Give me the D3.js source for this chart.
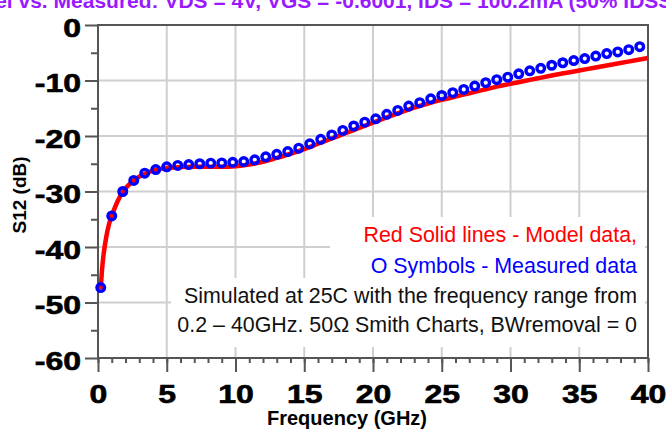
<!DOCTYPE html>
<html>
<head>
<meta charset="utf-8">
<script src="https://cdn.jsdelivr.net/npm/d3@7"></script>
<style>
  html, body { margin: 0; padding: 0; background: #fff; overflow: hidden; }
  svg { display: block; }
</style>
</head>
<body>
<div id="chart"></div>
<script>
// Datos medidos (simbolos O)
const measFreq = [0.2, 1.0, 1.8, 2.6, 3.4, 4.2, 5.0, 5.8, 6.6, 7.4, 8.2, 9.0, 9.8, 10.6, 11.4, 12.2, 13.0, 13.8, 14.6, 15.4,
  16.2, 17.0, 17.8, 18.6, 19.4, 20.2, 21.0, 21.8, 22.6, 23.4, 24.2, 25.0, 25.8, 26.6, 27.4, 28.2, 29.0, 29.8, 30.6, 31.4,
  32.2, 33.0, 33.8, 34.6, 35.4, 36.2, 37.0, 37.8, 38.6, 39.4];
const measS12 = [-47.3, -34.4, -30.0, -28.0, -26.7, -26.05, -25.55, -25.3, -25.15, -25.0, -24.9, -24.85, -24.75, -24.6, -24.3, -23.75, -23.3, -22.8, -22.2, -21.4,
  -20.6, -19.8, -19.0, -18.2, -17.5, -16.9, -16.1, -15.4, -14.6, -14.0, -13.3, -12.7, -12.2, -11.6, -11.0, -10.4, -9.85, -9.4, -8.8, -8.25,
  -7.8, -7.25, -6.8, -6.4, -6.05, -5.6, -5.15, -4.85, -4.45, -3.9];

// Datos del modelo (linea roja)
const modelFreq = [0.2, 0.3, 0.4, 0.6, 0.8, 1.0, 1.4, 1.8, 2.2, 2.6, 3.4, 4.2, 5, 6, 7, 8, 9, 10, 11, 12, 13, 14, 15, 16, 17,
  18, 19, 20, 21, 22, 23, 24, 25, 26, 27, 28, 29, 30, 31, 32, 33, 34, 35, 36, 37, 38, 39, 40];
const modelS12 = [-47.6, -43.9, -41.5, -38.2, -35.9, -34.4, -31.9, -30.1, -28.9, -28.0, -26.8, -26.1, -25.75, -25.6, -25.55, -25.55, -25.55, -25.45, -25.15, -24.65, -23.95, -23.2, -22.35, -21.4, -20.45,
  -19.5, -18.55, -17.6, -16.65, -15.75, -14.9, -14.15, -13.5, -12.9, -12.3, -11.7, -11.1, -10.6, -10.1, -9.6, -9.1, -8.65, -8.2, -7.75, -7.3, -6.85, -6.4, -5.95];

const xTicks = [0, 5, 10, 15, 20, 25, 30, 35, 40];
const yTicks = [0, -10, -20, -30, -40, -50, -60];

const titleText = "Model vs. Measured: VDS = 4V, VGS = -0.6001, IDS = 100.2mA (50% IDSS), 25C";
const notes = [
  { text: "Red Solid lines - Model data,", color: "#ff0000" },
  { text: "O Symbols - Measured data", color: "#0000ff" },
  { text: "Simulated at 25C with the frequency range from", color: "#111" },
  { text: "0.2 \u2013 40GHz. 50\u03A9 Smith Charts, BWremoval = 0", color: "#111" }
];

const width = 666, height = 431;
const plotLeft = 98, plotRight = 648, plotTop = 25, plotBottom = 358;

const svg = d3.select("#chart").append("svg")
  .attr("width", width)
  .attr("height", height);

const x = d3.scaleLinear().domain([0, 40]).range([plotLeft, plotRight]);
const y = d3.scaleLinear().domain([-60, 0]).range([plotBottom, plotTop]);

// titulo (cortado arriba)
svg.append("text")
  .attr("x", -48)
  .attr("y", 8)
  .attr("font-family", "Liberation Sans, Arial, sans-serif")
  .attr("font-weight", "bold")
  .attr("font-size", 21)
  .attr("fill", "#9a1aff")
  .text(titleText);

// rejilla
const grid = svg.append("g").attr("stroke", "#cfcfcf").attr("stroke-width", 2);
xTicks.slice(1, -1).forEach(t => {
  grid.append("line").attr("x1", x(t)).attr("x2", x(t)).attr("y1", plotTop).attr("y2", plotBottom);
});
yTicks.slice(1, -1).forEach(t => {
  grid.append("line").attr("x1", plotLeft).attr("x2", plotRight).attr("y1", y(t)).attr("y2", y(t));
});

// cajas blancas detras de las notas
svg.append("rect").attr("x", 330).attr("y", 217).attr("width", 315).attr("height", 62).attr("fill", "#fff");
svg.append("rect").attr("x", 171).attr("y", 278).attr("width", 474).attr("height", 69).attr("fill", "#fff");

// ejes
const axisColor = "#555";
const xAxis = d3.axisBottom(x).tickValues(xTicks).tickSize(14).tickFormat(d => String(d));
const xMinor = d3.axisBottom(x).tickValues(d3.range(0, 41, 1)).tickSize(5).tickFormat("");
const yAxis = d3.axisLeft(y).tickValues(yTicks).tickSize(13).tickFormat(d => String(d));
const yMinor = d3.axisLeft(y).tickValues(d3.range(-55, 0, 10)).tickSize(7).tickFormat("");

function styleAxis(g) {
  g.select(".domain").remove();
  g.selectAll("line").attr("stroke", axisColor).attr("stroke-width", 2);
  g.selectAll("text")
    .attr("fill", "#000")
    .attr("stroke", "#000")
    .attr("stroke-width", 0.6)
    .attr("font-family", "Liberation Sans, Arial, sans-serif")
    .attr("font-weight", "bold")
    .attr("font-size", 25);
}

// las etiquetas del original salen estiradas a lo ancho
function stretch(sel) {
  sel.each(function () {
    const w = this.getComputedTextLength();
    d3.select(this).attr("textLength", w * 1.28).attr("lengthAdjust", "spacingAndGlyphs");
  });
}

svg.append("g").attr("transform", `translate(0,${plotBottom})`).call(xMinor).call(styleAxis);
svg.append("g").attr("transform", `translate(0,${plotBottom})`).call(xAxis).call(styleAxis)
  .selectAll("text").attr("dy", 0).attr("y", 45).call(stretch);
svg.append("g").attr("transform", `translate(${plotLeft},0)`).call(yMinor).call(styleAxis);
svg.append("g").attr("transform", `translate(${plotLeft},0)`).call(yAxis).call(styleAxis)
  .selectAll("text").attr("x", -17).attr("dy", "0.44em").call(stretch);

// marco
svg.append("rect")
  .attr("x", plotLeft).attr("y", plotTop)
  .attr("width", plotRight - plotLeft).attr("height", plotBottom - plotTop)
  .attr("fill", "none")
  .attr("stroke", axisColor)
  .attr("stroke-width", 2);

// linea del modelo
const modelData = modelFreq.map((f, i) => ({ f, v: modelS12[i] }));
svg.append("path")
  .datum(modelData)
  .attr("fill", "none")
  .attr("stroke", "#ff0000")
  .attr("stroke-width", 4.5)
  .attr("d", d3.line().x(d => x(d.f)).y(d => y(d.v)).curve(d3.curveMonotoneX));

// simbolos medidos
const measData = measFreq.map((f, i) => ({ f, v: measS12[i] }));
svg.append("g")
  .selectAll("circle")
  .data(measData)
  .join("circle")
  .attr("cx", d => x(d.f))
  .attr("cy", d => y(d.v))
  .attr("r", 3.8)
  .attr("fill", "none")
  .attr("stroke", "#0000ff")
  .attr("stroke-width", 3.4);

// notas
const noteBaselines = [242, 273, 303, 332];
svg.append("g")
  .selectAll("text")
  .data(notes)
  .join("text")
  .attr("x", 637)
  .attr("y", (d, i) => noteBaselines[i])
  .attr("text-anchor", "end")
  .attr("font-family", "Liberation Sans, Arial, sans-serif")
  .attr("font-size", 21.4)
  .attr("fill", d => d.color)
  .text(d => d.text);

// titulos de ejes
svg.append("text")
  .attr("x", 347)
  .attr("y", 425)
  .attr("text-anchor", "middle")
  .attr("font-family", "Liberation Sans, Arial, sans-serif")
  .attr("font-weight", "bold")
  .attr("font-size", 20)
  .text("Frequency (GHz)");

svg.append("text")
  .attr("transform", "translate(26,195) rotate(-90)")
  .attr("text-anchor", "middle")
  .attr("font-family", "Liberation Sans, Arial, sans-serif")
  .attr("font-weight", "bold")
  .attr("font-size", 19)
  .text("S12 (dB)");
</script>
</body>
</html>
